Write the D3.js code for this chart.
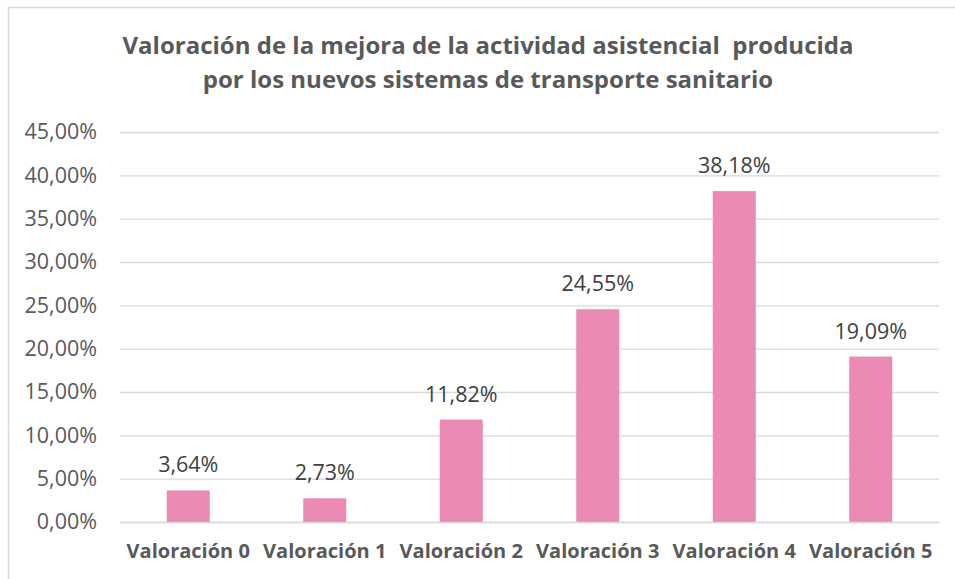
<!DOCTYPE html>
<html>
<head>
<meta charset="utf-8">
<script src="https://cdn.jsdelivr.net/npm/d3@7"></script>
<style>
  body { margin: 0; background: #fff; }
  text { font-family: "Open Sans", sans-serif; }
</style>
</head>
<body>
<div class="viewbox"></div>
<script>
  const categories = ["Valoración 0", "Valoración 1", "Valoración 2", "Valoración 3", "Valoración 4", "Valoración 5"]
  const values = [3.64, 2.73, 11.82, 24.55, 38.18, 19.09]
  const yTicks = [0, 5, 10, 15, 20, 25, 30, 35, 40, 45]
  const titleLines = ["Valoración de la mejora de la actividad asistencial  producida", "por los nuevos sistemas de transporte sanitario"]

  const svg_width = 955
  const svg_height = 579
  const margin = { top: 132, right: 16, bottom: 57, left: 120 }
  const FONT = "'Open Sans', sans-serif"

  let svg = d3.select(".viewbox")
    .append("svg")
    .attr("width", svg_width)
    .attr("height", svg_height)

  // chart frame (right and bottom edges fall outside the picture)
  svg.append("rect")
    .attr("x", 8.5).attr("y", 7.5)
    .attr("width", 960).attr("height", 600)
    .attr("fill", "none")
    .attr("stroke", "#d9d9d9")
    .attr("stroke-width", 1.5)

  let x = d3.scaleBand()
    .domain(categories)
    .range([margin.left, svg_width - margin.right])
    .paddingInner(0.685)
    .paddingOuter(0.3425)

  let y = d3.scaleLinear()
    .domain([0, 45])
    .range([svg_height - margin.bottom, margin.top])

  const fmt = v => v.toFixed(2).replace(".", ",") + "%"

  // title
  svg.append("text")
    .attr("text-anchor", "middle")
    .attr("fill", "#595959")
    .style("font-size", "24px")
    .style("font-weight", "bold")
    .style("white-space", "pre")
    .selectAll("tspan")
    .data(titleLines)
    .enter()
    .append("tspan")
    .attr("x", 488)
    .attr("y", (d, i) => 54 + i * 34)
    .text(d => d)

  // gridlines + y labels
  let yAxis = d3.axisLeft(y)
    .tickValues(yTicks)
    .tickSize(-(svg_width - margin.left - margin.right))
    .tickPadding(23)
    .tickFormat(d => fmt(d))

  let gy = svg.append("g")
    .attr("transform", `translate(${margin.left},0)`)
    .call(yAxis)
  gy.select(".domain").remove()
  gy.selectAll("line").attr("stroke", "#d9d9d9").attr("stroke-width", 1.3)
  gy.selectAll("text")
    .attr("fill", "#595959")
    .style("font-size", "21.5px")
    .style("font-family", FONT)

  // bars
  svg.selectAll("rect.bar")
    .data(values)
    .enter()
    .append("rect")
    .attr("class", "bar")
    .attr("x", (d, i) => x(categories[i]))
    .attr("width", x.bandwidth())
    .attr("y", d => y(d))
    .attr("height", d => y(0) - y(d))
    .attr("fill", "#ea8ab5")

  // value labels
  svg.selectAll("text.val")
    .data(values)
    .enter()
    .append("text")
    .attr("class", "val")
    .attr("x", (d, i) => x(categories[i]) + x.bandwidth() / 2)
    .attr("y", d => y(d) - 18)
    .attr("text-anchor", "middle")
    .attr("fill", "#404040")
    .style("font-size", "21.5px")
    .text(d => fmt(d))

  // x labels
  let gx = svg.append("g")
    .attr("transform", `translate(0,${y(0)})`)
    .call(d3.axisBottom(x).tickSize(0).tickPadding(22))
  gx.select(".domain").attr("stroke", "#d9d9d9").attr("stroke-width", 1.3)
  gx.selectAll("text")
    .attr("fill", "#595959")
    .style("font-size", "20px")
    .style("font-weight", "bold")
    .style("font-family", FONT)
</script>
</body>
</html>
